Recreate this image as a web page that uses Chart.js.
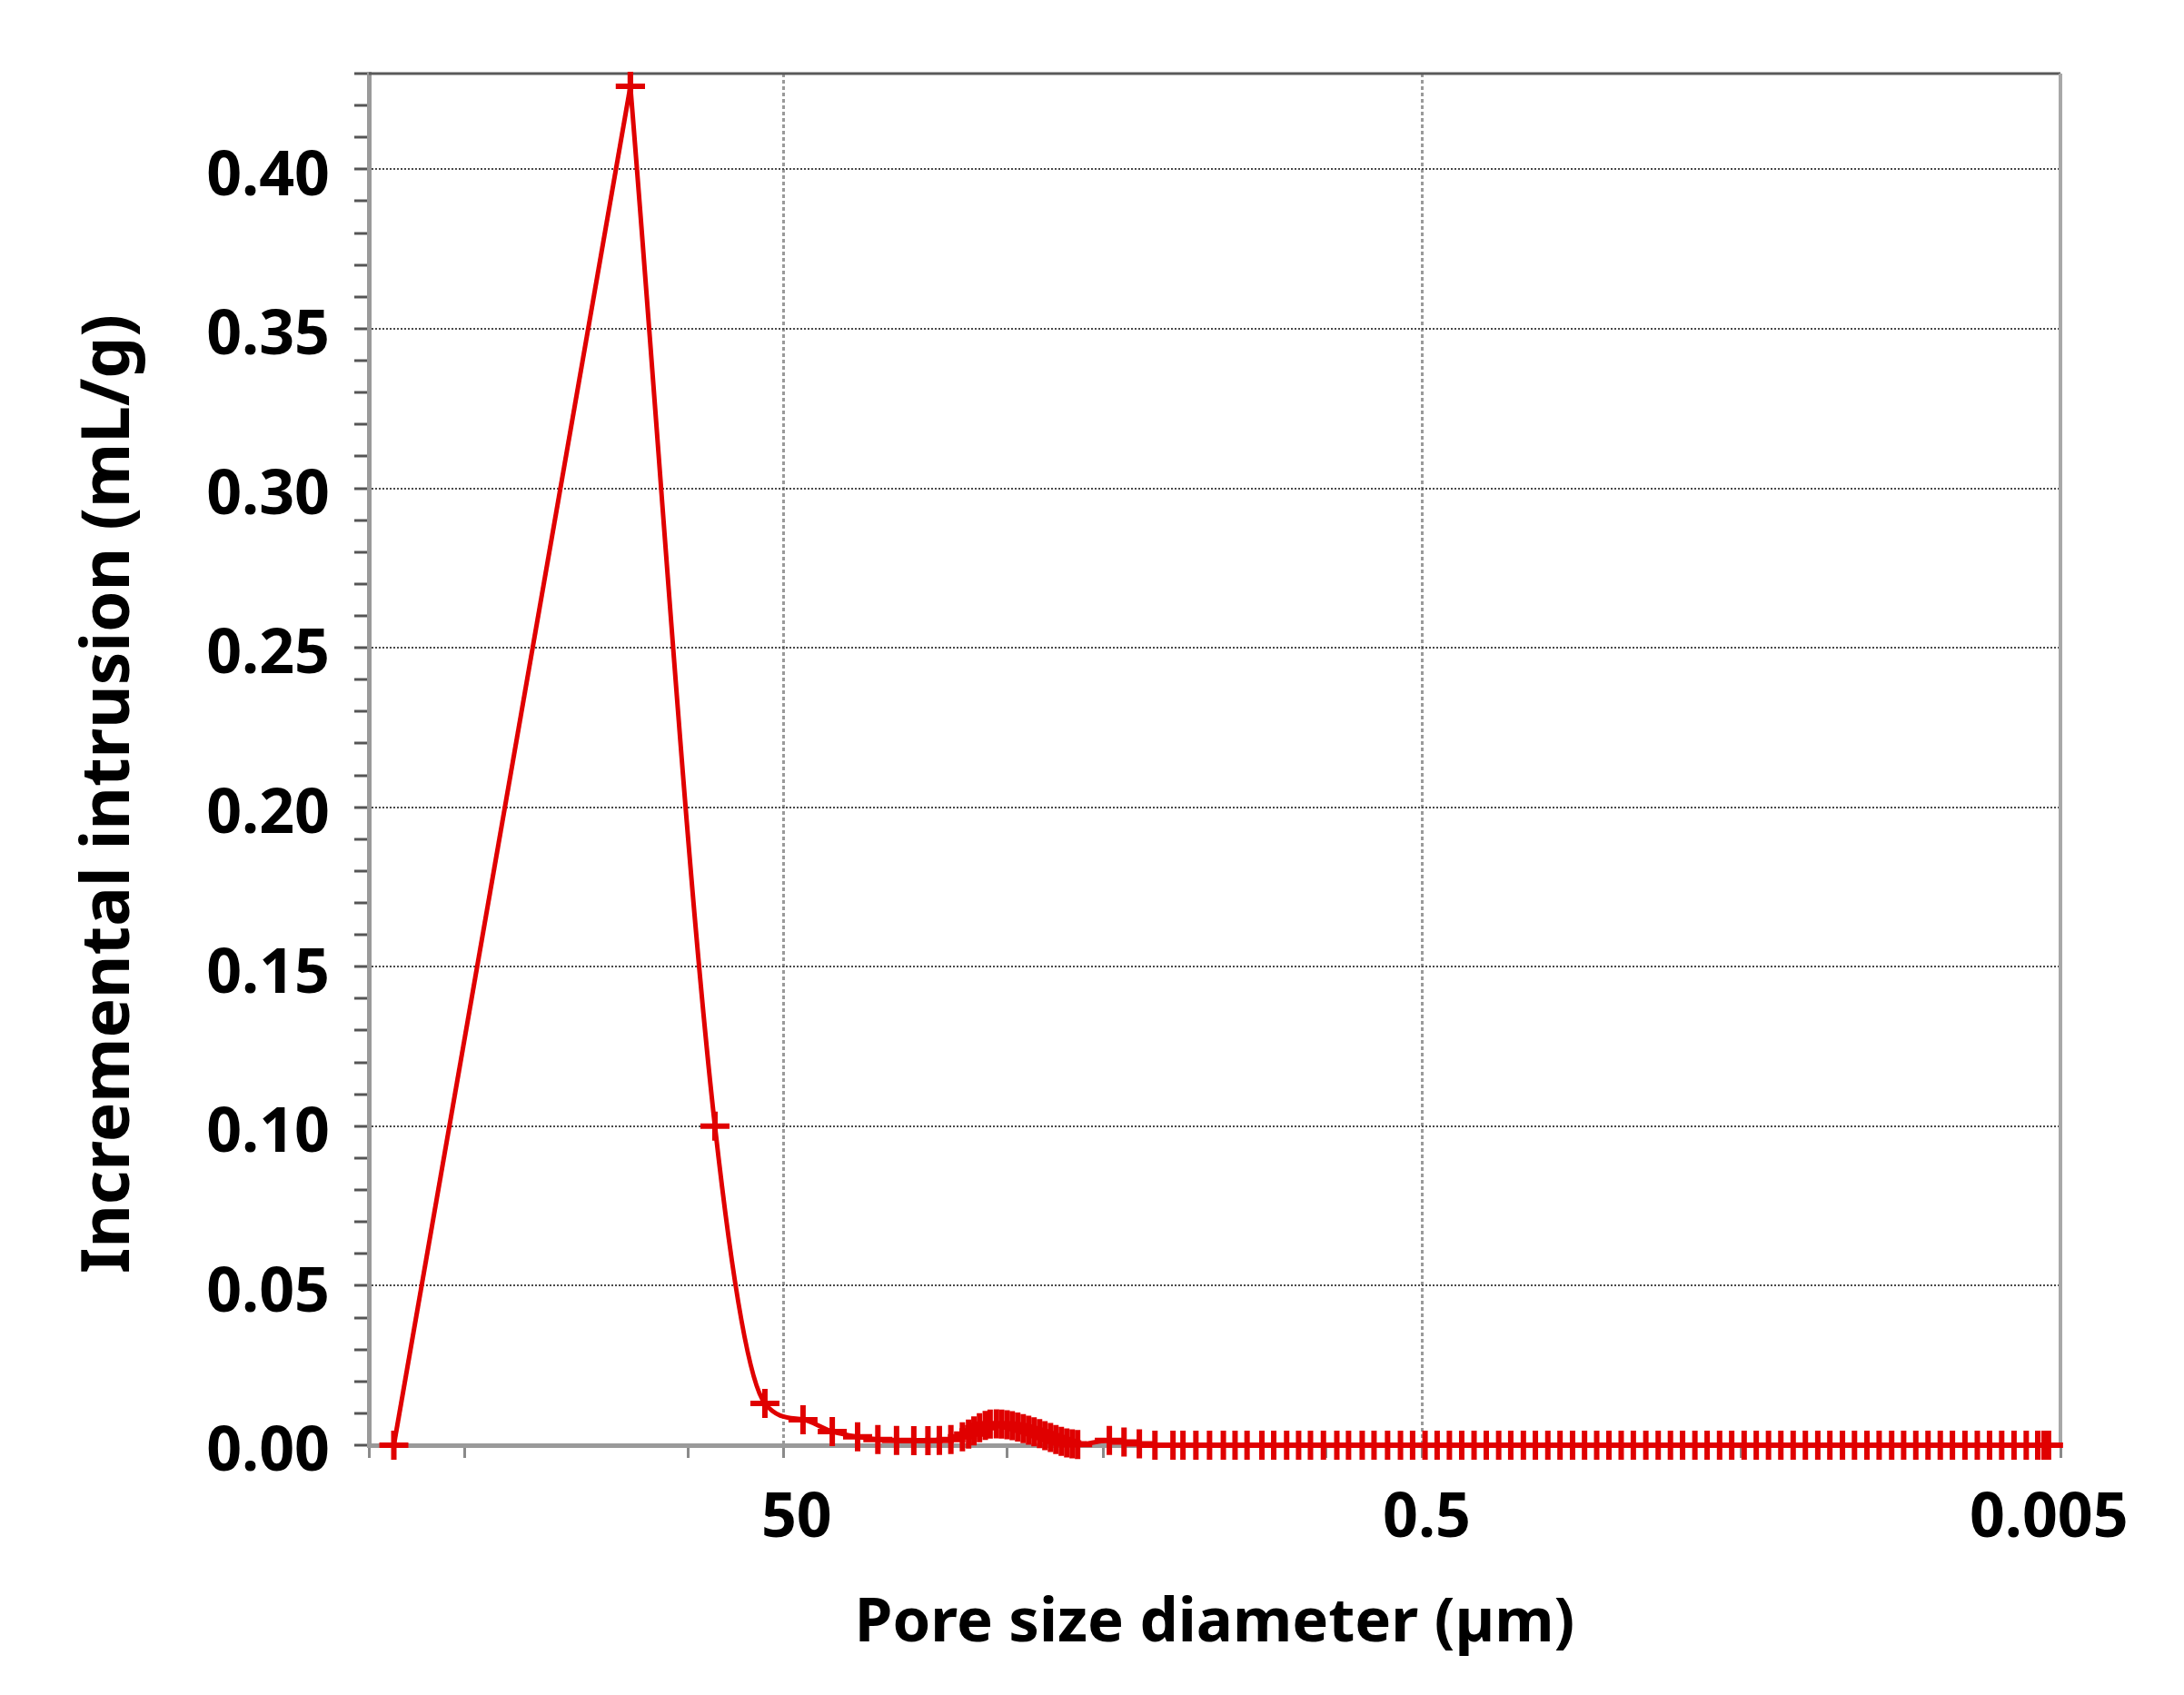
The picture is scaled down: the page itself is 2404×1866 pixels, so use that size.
<!DOCTYPE html>
<html>
<head>
<meta charset="utf-8">
<script src="https://cdn.jsdelivr.net/npm/chart.js@4.4.1/dist/chart.umd.min.js"></script>
<style>
  html, body { margin: 0; padding: 0; background: #fff; }
  #wrap { width: 2404px; height: 1866px; }
</style>
</head>
<body>
<div id="wrap"><canvas id="poreChart" width="2404" height="1866"></canvas></div>
<script>
// pore diameter (um)
const diameters = [
  835, 151.5, 82.3, 57.4, 43.6, 35.3, 29.4, 25.4, 22.2, 19.6, 17.7, 16.3, 15.0, 13.8,
  13.2, 12.7, 12.2, 11.7, 11.3, 10.8, 10.4, 10.0, 9.63, 9.26, 8.90, 8.56, 8.23, 7.91, 7.61, 7.31, 7.03, 6.76, 6.50, 6.25, 6.01,
  4.78, 4.30, 3.85, 3.44, 3.02, 2.81, 2.56, 2.32, 2.10, 1.93, 1.77, 1.59, 1.46, 1.33, 1.22, 1.12, 1.02, 0.926, 0.851, 0.771, 0.708, 0.642, 0.585,
  0.536, 0.490, 0.449, 0.411, 0.376, 0.344, 0.315, 0.288, 0.264, 0.241,
  0.221, 0.202, 0.185, 0.169, 0.155, 0.142, 0.130, 0.119, 0.109, 0.0996,
  0.0911, 0.0834, 0.0764, 0.0699, 0.0640, 0.0585, 0.0536, 0.0490, 0.0449, 0.0411,
  0.0376, 0.0344, 0.0315, 0.0288, 0.0264, 0.0241, 0.0221, 0.0202, 0.0185, 0.0169,
  0.0155, 0.0142, 0.0130, 0.0119, 0.0109, 0.00996, 0.00911, 0.00834, 0.00764, 0.00699,
  0.00640, 0.00589, 0.00563, 0.00545
];

// incremental intrusion (mL/g)
const intrusion = [
  0, 0.426, 0.100, 0.0131, 0.0080, 0.0043, 0.0026, 0.0018, 0.0015, 0.0014, 0.0014, 0.0015, 0.0018, 0.0026,
  0.0035, 0.0045, 0.0055, 0.0062, 0.0066, 0.0067, 0.0066, 0.0064, 0.0061, 0.0057, 0.0052, 0.0047, 0.0042, 0.0036, 0.0030, 0.0024, 0.0018, 0.0012, 0.0007, 0.0004, 0.0002,
  0.0015, 0.0010, 0.0004,
  0, 0, 0, 0, 0, 0, 0, 0, 0, 0,
  0, 0, 0, 0, 0, 0, 0, 0, 0, 0,
  0, 0, 0, 0, 0, 0, 0, 0, 0, 0,
  0, 0, 0, 0, 0, 0, 0, 0, 0, 0,
  0, 0, 0, 0, 0, 0, 0, 0, 0, 0,
  0, 0, 0, 0, 0, 0, 0, 0, 0, 0,
  0, 0, 0, 0, 0, 0, 0, 0, 0, 0,
  0, 0, 0, 0
];

const xTickValues = [1000, 500, 100, 50, 10, 5, 1, 0.5, 0.1, 0.05, 0.01, 0.005];
// labelled ticks (spaces nudge the text the way the original sits)
const xTickLabels = { 50: ' 50', 0.5: '0.5', 0.005: '0.005  ' };
const xGridValues = [50, 0.5];

const red = '#e00000';
const points = diameters.map((d, i) => ({ x: d, y: intrusion[i] }));

// top and right edges of the plot box
const framePlugin = {
  id: 'frame',
  beforeDatasetsDraw(chart) {
    const { ctx, chartArea: a } = chart;
    ctx.save();
    ctx.strokeStyle = '#5a5a5a';
    ctx.lineWidth = 3;
    ctx.beginPath();
    ctx.moveTo(a.left, a.top);
    ctx.lineTo(a.right, a.top);
    ctx.stroke();
    ctx.strokeStyle = '#a8a8a8';
    ctx.lineWidth = 4;
    ctx.beginPath();
    ctx.moveTo(a.right, a.top);
    ctx.lineTo(a.right, a.bottom);
    ctx.stroke();
    ctx.restore();
  }
};

Chart.defaults.font.family = "'Noto Sans', sans-serif";
Chart.defaults.font.weight = 'bold';
Chart.defaults.color = '#000';

const ctx = document.getElementById('poreChart').getContext('2d');

const lineStyle = {
  borderColor: red,
  borderWidth: 5,
  pointStyle: 'cross',
  pointRadius: 16,
  pointBorderWidth: 6,
  pointBorderColor: red,
  clip: false,
  // where the curve lies on the grey axis it reads darker
  segment: {
    borderColor: c => (c.p0.parsed.y === 0 && c.p1.parsed.y === 0) ? '#a00000' : undefined
  }
};

const poreChart = new Chart(ctx, {
  type: 'line',
  data: {
    datasets: [
      // rising flank is drawn straight, the rest smoothed
      Object.assign({ data: points.slice(0, 2), tension: 0 }, lineStyle),
      Object.assign({ data: points.slice(1), cubicInterpolationMode: 'monotone' }, lineStyle)
    ]
  },
  options: {
    responsive: false,
    maintainAspectRatio: false,
    animation: false,
    devicePixelRatio: 1,
    layout: { padding: { top: 81, right: 136, left: 0, bottom: 0 } },
    plugins: { legend: { display: false }, tooltip: { enabled: false } },
    scales: {
      x: {
        type: 'logarithmic',
        reverse: true,
        min: 0.005,
        max: 1000,
        afterBuildTicks: axis => { axis.ticks = xTickValues.map(v => ({ value: v })); },
        afterFit: axis => { axis.height = 275; },
        ticks: {
          autoSkip: false,
          maxRotation: 0,
          padding: 27,
          labelOffset: 5,
          font: { size: 68, weight: 'bold' },
          callback: v => xTickLabels[v] !== undefined ? xTickLabels[v] : ''
        },
        grid: {
          color: c => (c.tick && xGridValues.includes(c.tick.value)) ? '#9a9a9a' : 'transparent',
          lineWidth: 3,
          tickColor: '#8a8a8a',
          tickLength: 14,
          tickWidth: 3
        },
        border: { color: '#9a9a9a', width: 5, dash: [4, 3] },
        title: {
          display: true,
          text: 'Pore size diameter (µm)',
          font: { size: 67, weight: 'bold' },
          padding: { top: 0, bottom: 38 }
        }
      },
      y: {
        min: 0,
        max: 0.43,
        afterFit: axis => { axis.width = 406; },
        ticks: {
          stepSize: 0.01,
          autoSkip: false,
          padding: 27,
          labelOffset: 9,
          font: { size: 68, weight: 'bold' },
          callback: v => Math.round(v * 100) % 5 === 0 ? v.toFixed(2) : ''
        },
        grid: {
          color: c => {
            const n = c.tick ? Math.round(c.tick.value * 100) : 1;
            return (n > 0 && n % 5 === 0) ? '#4a4a4a' : 'transparent';
          },
          lineWidth: 2,
          tickColor: '#555',
          tickLength: 16,
          tickWidth: 3
        },
        border: { color: '#9a9a9a', width: 5, dash: [2, 2] },
        title: {
          display: true,
          text: 'Incremental intrusion (mL/g)    ',
          font: { size: 73, weight: 'bold' },
          padding: { top: 77, bottom: 0 }
        }
      }
    }
  },
  plugins: [framePlugin]
});
</script>
</body>
</html>
